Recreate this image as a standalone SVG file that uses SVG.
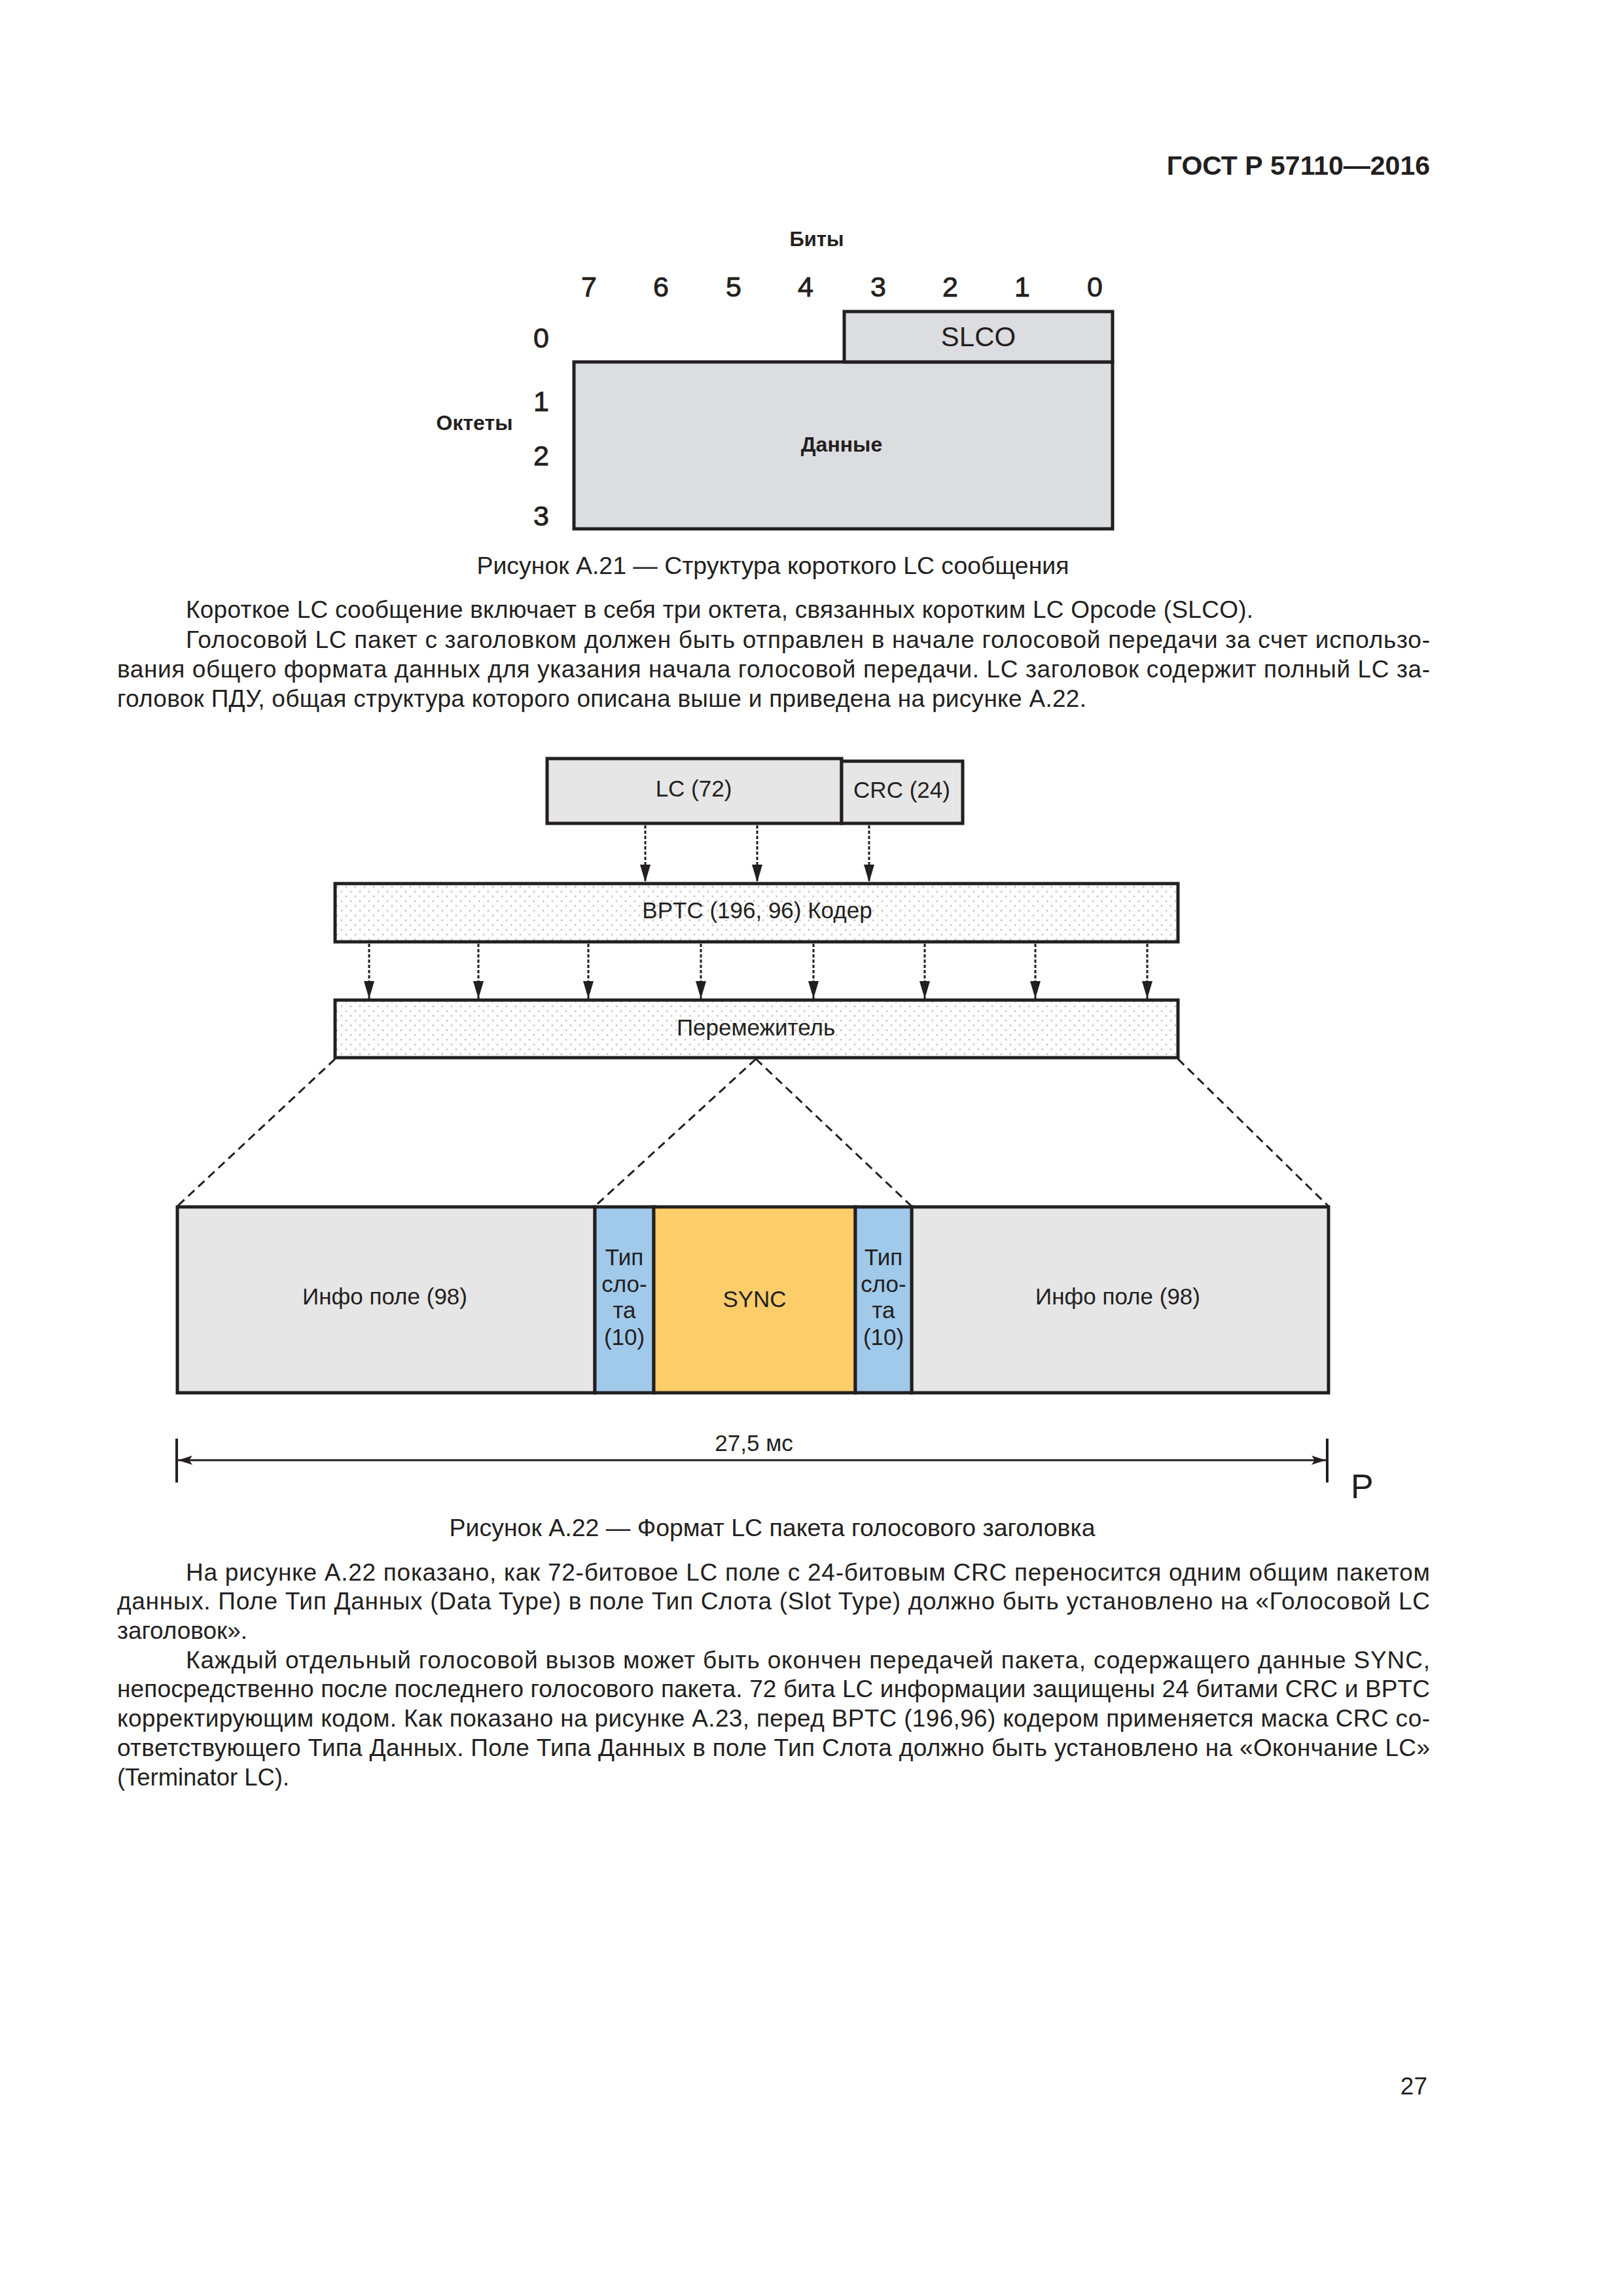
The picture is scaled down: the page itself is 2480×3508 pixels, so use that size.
<svg xmlns="http://www.w3.org/2000/svg" width="2480" height="3508" viewBox="0 0 2480 3508">
<style>
text{font-family:"Liberation Sans",Arial,sans-serif;fill:#231f20}
.body{font-size:37px}
.cap{font-size:37px;text-anchor:middle}
.lbl{font-size:35px;text-anchor:middle}
.bold{font-weight:bold}
.num{font-size:43px;text-anchor:middle;stroke:#231f20;stroke-width:0.9}
.box{stroke:#231f20;stroke-width:5}
.gray{fill:#e6e6e6}
.g21{fill:#dcdde0}
.blue{fill:#a0c9ea}
.sync{fill:#fdcd6a}
.dots{fill:url(#dots)}
.conn{stroke:#231f20;stroke-width:3;stroke-dasharray:5 3;fill:none}
.dash{stroke:#231f20;stroke-width:3;stroke-dasharray:13 8;fill:none}
.dim{stroke:#231f20;stroke-width:3;fill:none}
</style>
<defs>
<pattern id="dots" width="14" height="14.6" patternUnits="userSpaceOnUse" x="512" y="1352">
<rect width="14" height="14.6" fill="#ffffff"/>
<circle cx="3" cy="3" r="1.5" fill="#c4c4c4"/>
<circle cx="10" cy="10.3" r="1.5" fill="#c4c4c4"/>
</pattern>
<marker id="arr" markerUnits="userSpaceOnUse" markerWidth="28" markerHeight="18" refX="27" refY="8" orient="auto">
<path d="M0,0 L27,8 L0,16 z" fill="#231f20"/>
</marker>
<marker id="darr" markerUnits="userSpaceOnUse" markerWidth="24" markerHeight="16" refX="22" refY="7" orient="auto-start-reverse">
<path d="M0,0 L22,7 L0,14 L5,7 z" fill="#231f20"/>
</marker>
</defs>
<rect width="2480" height="3508" fill="#ffffff"/>

<text x="2185" y="267" class="bold" font-size="41" text-anchor="end">ГОСТ Р 57110—2016</text>

<!-- Figure A.21 -->
<g id="fig21-axes">
<text x="1248" y="376" class="bold" font-size="31" text-anchor="middle">Биты</text>
<g class="num">
<text x="900" y="453">7</text>
<text x="1010" y="453">6</text>
<text x="1121" y="453">5</text>
<text x="1231" y="453">4</text>
<text x="1342" y="453">3</text>
<text x="1452" y="453">2</text>
<text x="1562" y="453">1</text>
<text x="1673" y="453">0</text>
<text x="827" y="531">0</text>
<text x="827" y="628">1</text>
<text x="827" y="711">2</text>
<text x="827" y="803">3</text>
</g>
<text x="725" y="657" class="bold" font-size="32" text-anchor="middle">Октеты</text>
</g>
<g id="fig21-data">
<rect x="877" y="553" width="823" height="255" class="box g21"/>
<text x="1286" y="690" class="bold" font-size="32" text-anchor="middle">Данные</text>
</g>
<g id="fig21-slco">
<rect x="1290" y="476" width="410" height="77" class="box g21"/>
<text x="1495" y="529" font-size="42" text-anchor="middle">SLCO</text>
</g>

<text x="1181" y="877" class="cap" textLength="905" lengthAdjust="spacingAndGlyphs">Рисунок А.21 — Структура короткого LC сообщения</text>

<g class="body">
<text x="284" y="944" textLength="1631" lengthAdjust="spacing">Короткое LC сообщение включает в себя три октета, связанных коротким LC Opcode (SLCO).</text>
<text x="284" y="990" textLength="1901" lengthAdjust="spacing">Голосовой LC пакет с заголовком должен быть отправлен в начале голосовой передачи за счет использо-</text>
<text x="179" y="1035" textLength="2006" lengthAdjust="spacing">вания общего  формата  данных для указания начала голосовой передачи. LC заголовок содержит полный LC за-</text>
<text x="179" y="1080" textLength="1481" lengthAdjust="spacing">головок ПДУ, общая структура которого описана выше и приведена на  рисунке А.22.</text>
</g>

<!-- Figure A.22 -->
<g id="connectors">
<line x1="986" y1="1261" x2="986" y2="1348" class="conn" marker-end="url(#arr)"/>
<line x1="1157" y1="1261" x2="1157" y2="1348" class="conn" marker-end="url(#arr)"/>
<line x1="1328" y1="1261" x2="1328" y2="1348" class="conn" marker-end="url(#arr)"/>
<line x1="564" y1="1442" x2="564" y2="1526" class="conn" marker-end="url(#arr)"/>
<line x1="731" y1="1442" x2="731" y2="1526" class="conn" marker-end="url(#arr)"/>
<line x1="899" y1="1442" x2="899" y2="1526" class="conn" marker-end="url(#arr)"/>
<line x1="1071" y1="1442" x2="1071" y2="1526" class="conn" marker-end="url(#arr)"/>
<line x1="1243" y1="1442" x2="1243" y2="1526" class="conn" marker-end="url(#arr)"/>
<line x1="1413" y1="1442" x2="1413" y2="1526" class="conn" marker-end="url(#arr)"/>
<line x1="1582" y1="1442" x2="1582" y2="1526" class="conn" marker-end="url(#arr)"/>
<line x1="1753" y1="1442" x2="1753" y2="1526" class="conn" marker-end="url(#arr)"/>
<line x1="512" y1="1618" x2="271" y2="1843" class="dash"/>
<line x1="1155" y1="1618" x2="909" y2="1843" class="dash"/>
<line x1="1155" y1="1618" x2="1393" y2="1843" class="dash"/>
<line x1="1800" y1="1618" x2="2030" y2="1843" class="dash"/>
</g>

<g id="fig22-lc">
<rect x="836" y="1159" width="450" height="99" class="box gray"/>
<text x="1060" y="1217" class="lbl">LC (72)</text>
</g>
<g id="fig22-crc">
<rect x="1286" y="1163" width="185" height="95" class="box gray"/>
<text x="1378" y="1219" class="lbl">CRC (24)</text>
</g>
<g id="fig22-bptc">
<rect x="512" y="1350" width="1288" height="89" class="box dots"/>
<text x="1157" y="1403" class="lbl">BPTC (196, 96) Кодер</text>
</g>
<g id="fig22-interleaver">
<rect x="512" y="1528" width="1288" height="88" class="box dots"/>
<text x="1155" y="1582" class="lbl">Перемежитель</text>
</g>

<g id="fig22-info1">
<rect x="271" y="1844" width="638" height="284" class="box gray"/>
<text x="588" y="1993" class="lbl">Инфо поле (98)</text>
</g>
<g id="fig22-info2">
<rect x="1393" y="1844" width="637" height="284" class="box gray"/>
<text x="1708" y="1993" class="lbl">Инфо поле (98)</text>
</g>
<g id="fig22-type1">
<rect x="909" y="1844" width="90" height="284" class="box blue"/>
<text class="lbl"><tspan x="954" y="1933">Тип</tspan><tspan x="954" y="1974">сло-</tspan><tspan x="954" y="2014">та</tspan><tspan x="954" y="2055">(10)</tspan></text>
</g>
<g id="fig22-sync">
<rect x="999" y="1844" width="308" height="284" class="box sync"/>
<text x="1153" y="1997" class="lbl">SYNC</text>
</g>
<g id="fig22-type2">
<rect x="1307" y="1844" width="86" height="284" class="box blue"/>
<text class="lbl"><tspan x="1350" y="1933">Тип</tspan><tspan x="1350" y="1974">сло-</tspan><tspan x="1350" y="2014">та</tspan><tspan x="1350" y="2055">(10)</tspan></text>
</g>

<g id="fig22-dimension">
<line x1="270" y1="2198" x2="270" y2="2265" stroke="#231f20" stroke-width="4"/>
<line x1="2028" y1="2198" x2="2028" y2="2265" stroke="#231f20" stroke-width="4"/>
<line x1="272" y1="2231" x2="2026" y2="2231" class="dim" marker-start="url(#darr)" marker-end="url(#darr)"/>
<text x="1152" y="2217" class="lbl">27,5 мс</text>
<text x="2064" y="2289" font-size="52">P</text>
</g>

<text x="1180" y="2347" class="cap" textLength="987" lengthAdjust="spacingAndGlyphs">Рисунок А.22 — Формат LC пакета голосового заголовка</text>

<g class="body">
<text x="284" y="2415" textLength="1901" lengthAdjust="spacing">На рисунке А.22 показано, как 72-битовое LC поле с 24-битовым CRC переносится одним общим пакетом</text>
<text x="179" y="2459" textLength="2006" lengthAdjust="spacing">данных. Поле Тип Данных (Data Type) в поле Тип Слота (Slot Type) должно быть установлено на «Голосовой LC</text>
<text x="179" y="2504" textLength="199" lengthAdjust="spacingAndGlyphs">заголовок».</text>
<text x="284" y="2549" textLength="1901" lengthAdjust="spacing">Каждый отдельный голосовой вызов может быть окончен передачей пакета, содержащего данные SYNC,</text>
<text x="179" y="2593" textLength="2006" lengthAdjust="spacing">непосредственно после последнего голосового пакета. 72 бита LC информации защищены 24 битами CRC и BPTC</text>
<text x="179" y="2638" textLength="2006" lengthAdjust="spacing">корректирующим кодом. Как показано на рисунке А.23, перед BPTC (196,96) кодером применяется маска CRC со-</text>
<text x="179" y="2683" textLength="2006" lengthAdjust="spacing">ответствующего Типа Данных. Поле Типа Данных в поле Тип Слота должно быть установлено на «Окончание LC»</text>
<text x="179" y="2728" textLength="263" lengthAdjust="spacingAndGlyphs">(Terminator LC).</text>
</g>

<text x="2181" y="3200" font-size="37" text-anchor="end">27</text>
</svg>
